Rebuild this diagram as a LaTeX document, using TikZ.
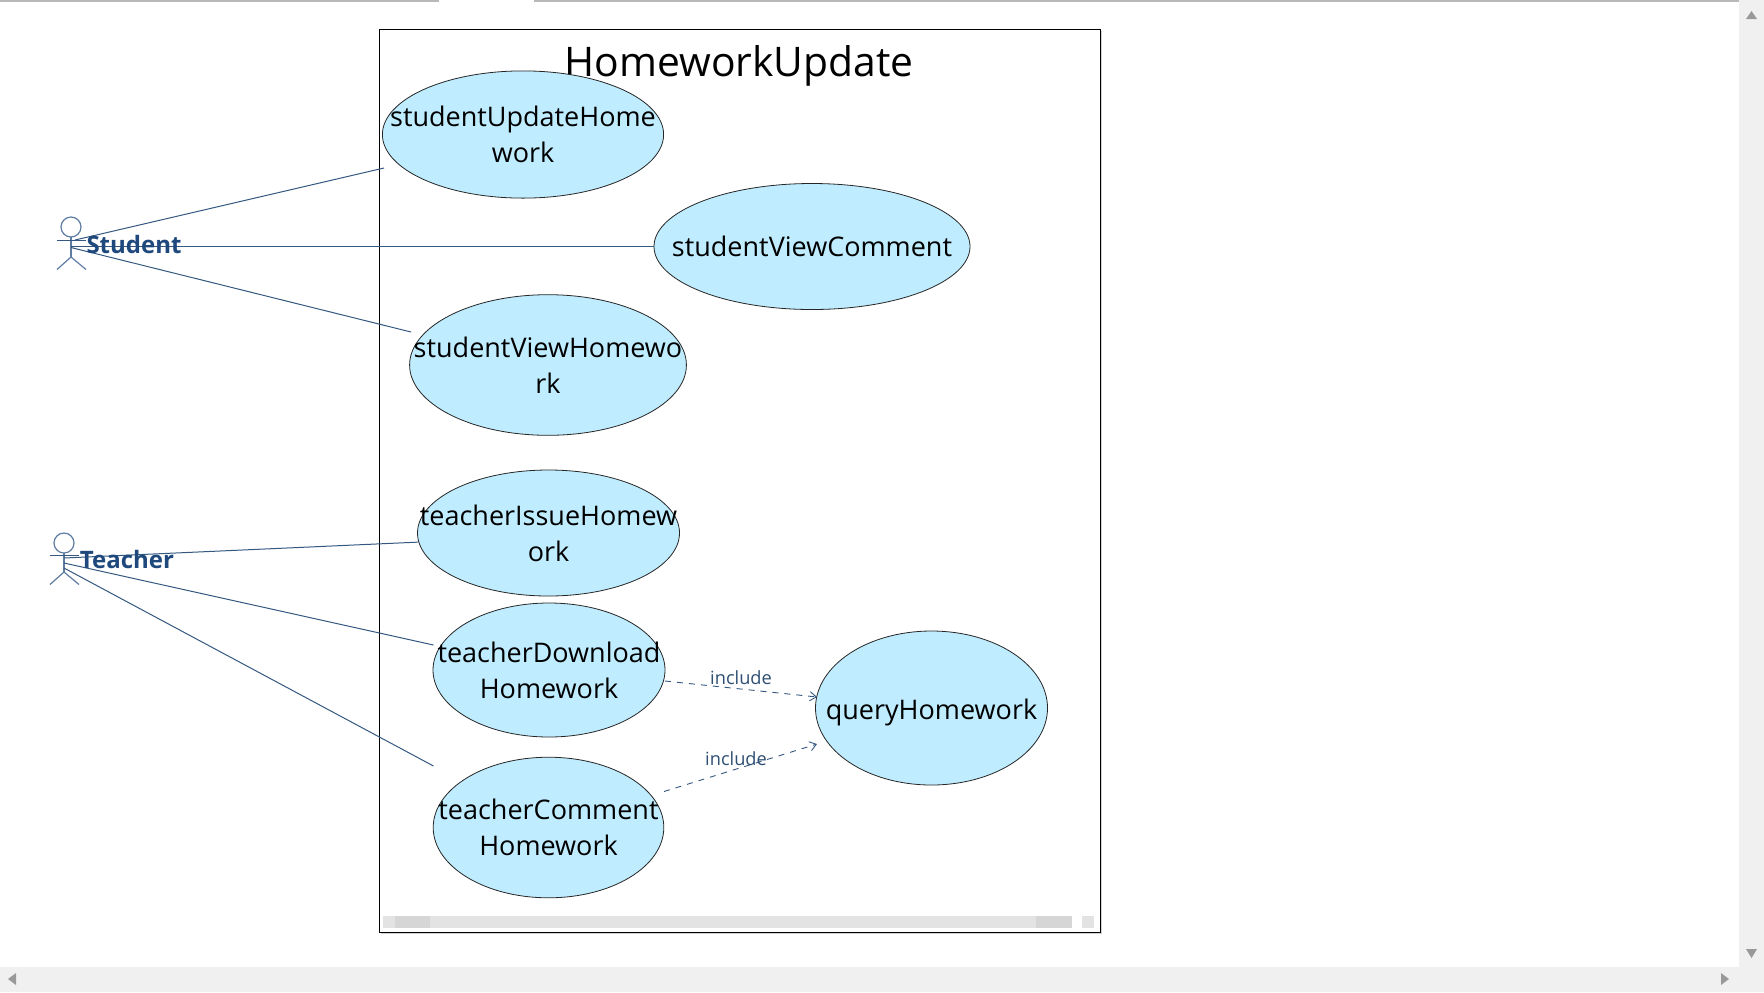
\documentclass[tikz,border=0pt]{standalone}
\usepackage{fontspec}
\setmainfont{Open Sans}
\usepackage{xcolor}
\usetikzlibrary{shapes.geometric,arrows.meta}

\definecolor{linkblue}{HTML}{34587F}
\definecolor{actorblue}{HTML}{5F7DA3}
\definecolor{namblue}{HTML}{1F497D}
\definecolor{casefill}{HTML}{BFEDFF}
\definecolor{barbg}{HTML}{F0F0F0}

\tikzset{
  usecase/.style={draw=black!85, fill=casefill, ellipse, inner sep=0pt, line width=0.4pt},
  casetext/.style={font=\fontsize{13.5}{18}\selectfont, align=center, text=black},
  actorname/.style={font=\fontsize{12}{14}\selectfont\bfseries, text=namblue},
  inclabel/.style={font=\fontsize{9.1}{11}\selectfont, text=linkblue!90!black},
  link/.style={draw=linkblue, line width=0.5pt},
  inc/.style={draw=linkblue, line width=0.45pt, dashed, -{Straight Barb[length=3.2pt,width=4.6pt]}},
  actor/.style={draw=actorblue, line width=0.6pt},
  tri/.style={fill=black!40, draw=none}
}

\begin{document}
\begin{tikzpicture}[x=0.5pt, y=-0.5pt]
  \useasboundingbox (0, 0) rectangle (1764, 992);
  \fill[white] (0, 0) rectangle (1764, 992);

  % Window bars
  \fill[black!28] (0, 0) rectangle (439, 1.5);
  \fill[black!28] (534, 0) rectangle (1764, 1.5);
  \fill[barbg] (1739, 0) rectangle (1764, 992);
  \fill[barbg] (0, 967) rectangle (1764, 992);
  \fill[tri] (1746, 19) -- (1751.5, 11) -- (1757, 19) -- cycle;
  \fill[tri] (1746, 949) -- (1751.5, 958) -- (1757, 949) -- cycle;
  \fill[tri] (1721, 973) -- (1729, 979) -- (1721, 985) -- cycle;
  \fill[tri] (16, 973) -- (8, 979) -- (16, 985) -- cycle;

  % System box
  \fill[black!18] (380.5, 31) rectangle (1102, 934);
  \draw[black, fill=white, line width=0.5pt] (379, 29.5) rectangle (1100, 932);
  \node[font=\fontsize{20.4}{25}\selectfont] (title) at (739, 66) {HomeworkUpdate};

  % Scrollbar in the box
  \fill[black!11] (383, 916) rectangle (1071.5, 928);
  \fill[black!16] (395, 916) rectangle (430, 928);
  \fill[black!16] (1036, 916) rectangle (1071.5, 928);
  \fill[black!11] (1082, 916) rectangle (1094, 928);

  % Use cases
  \node[usecase, minimum width=140.6pt, minimum height=63.6pt, label={[casetext]center:studentUpdateHome\\work}] (updatehw) at (523, 134.5) {};
  \node[usecase, minimum width=158pt, minimum height=63pt, label={[casetext]center:studentViewComment}] (viewcomment) at (812, 246.5) {};
  \node[usecase, minimum width=138.4pt, minimum height=70.3pt, label={[casetext]center:studentViewHomewo\\rk}] (viewhw) at (548, 365) {};
  \node[usecase, minimum width=131pt, minimum height=63pt, label={[casetext]center:teacherIssueHomew\\ork}] (issuehw) at (548.5, 533) {};
  \node[usecase, minimum width=116pt, minimum height=67pt, label={[casetext]center:teacherDownload\\Homework}] (downloadhw) at (549, 670) {};
  \node[usecase, minimum width=115.3pt, minimum height=70.3pt, label={[casetext]center:teacherComment\\Homework}] (commenthw) at (548.5, 827.5) {};
  \node[usecase, minimum width=116pt, minimum height=77pt, label={[casetext, yshift=-2pt]center:queryHomework}] (queryhw) at (931.5, 708) {};

  % Actor Student
  \node[actor, circle, draw, minimum size=10pt, inner sep=0pt] (studenthead) at (71, 227) {};
  \coordinate (studentneck) at (71, 237);
  \coordinate (studenthip) at (71, 257);
  \coordinate (studentarml) at (57, 240);
  \coordinate (studentarmr) at (86, 240);
  \coordinate (studentlegl) at (57, 269.5);
  \coordinate (studentlegr) at (86, 269.5);
  \draw[actor] (studentneck) -- (studenthip);
  \draw[actor] (studentlegl) -- (studenthip) -- (studentlegr);
  \draw[link] (studentarml) -- (studentarmr);

  % Actor Teacher
  \node[actor, circle, draw, minimum size=10pt, inner sep=0pt] (teacherhead) at (64, 543) {};
  \coordinate (teacherneck) at (64, 553);
  \coordinate (teacherhip) at (64, 572);
  \coordinate (teacherarml) at (49.5, 555);
  \coordinate (teacherarmr) at (79, 555);
  \coordinate (teacherlegl) at (50, 584.5);
  \coordinate (teacherlegr) at (79, 584.5);
  \draw[actor] (teacherneck) -- (teacherhip);
  \draw[actor] (teacherlegl) -- (teacherhip) -- (teacherlegr);
  \draw[link] (teacherarml) -- (teacherarmr);

  % Associations
  \coordinate (s1) at (75, 240);
  \coordinate (s2) at (71, 246.5);
  \coordinate (s3) at (71, 247.5);
  \coordinate (s1end) at (384, 168);
  \coordinate (s3end) at (411, 332);
  \coordinate (t1) at (64, 558);
  \coordinate (t2) at (64, 563);
  \coordinate (t3) at (64, 568);
  \coordinate (t2end) at (433.5, 645);
  \coordinate (t3end) at (433.5, 766);
  \draw[link] (s1) -- (s1end);
  \draw[link] (s2) -- (viewcomment.west);
  \draw[link] (s3) -- (s3end);
  \draw[link] (t1) -- (issuehw.184);
  \draw[link] (t2) -- (t2end);
  \draw[link] (t3) -- (t3end);

  % Include arrows
  \coordinate (inc1a) at (665, 681);
  \coordinate (inc1b) at (817, 697);
  \coordinate (inc2a) at (664, 791.5);
  \coordinate (inc2b) at (817, 744);
  \draw[inc] (inc1a) -- (inc1b);
  \draw[inc] (inc2a) -- (inc2b);
  \node[inclabel] (inc1label) at (741, 678) {include};
  \node[inclabel] (inc2label) at (736, 759) {include};

  % Actor names
  \node[actorname] (studentname) at (134, 244) {Student};
  \node[actorname] (teachername) at (127, 559) {Teacher};
\end{tikzpicture}
\end{document}
